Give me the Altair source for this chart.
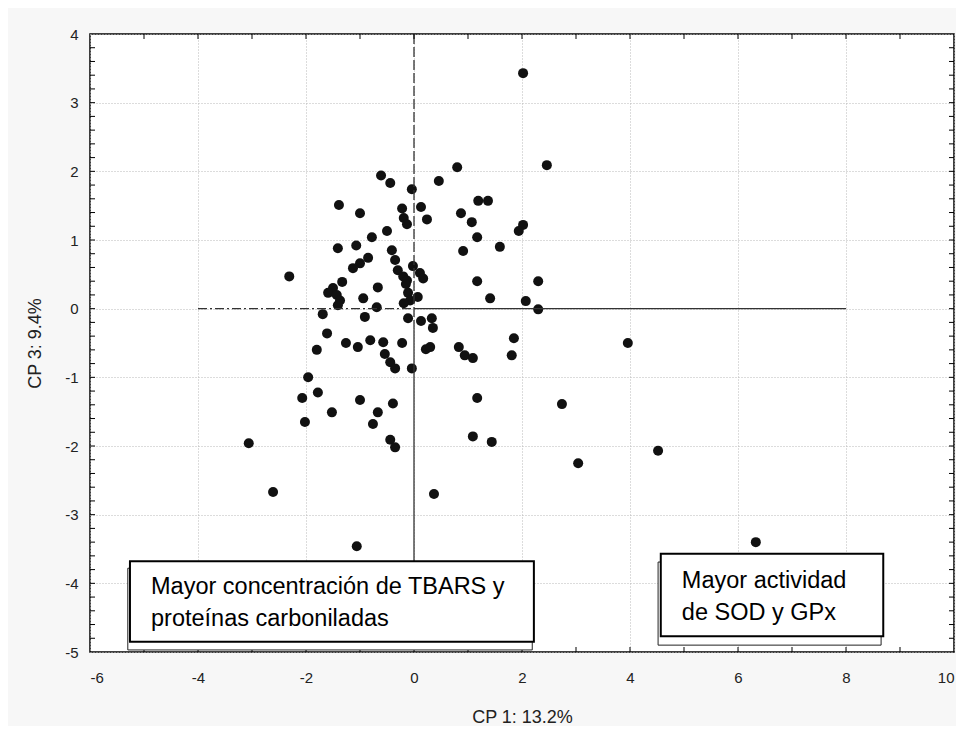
import altair as alt
import pandas as pd

# ---- data ----
cp1 = [2.02, 2.46, 0.80, 0.46, -0.04, -0.61, -0.44, 1.19, 1.37, 0.87, 1.07, 1.17, 1.59, 0.91,
       2.02, 1.94, -0.22, -0.19, -0.13, 0.13, 0.24, -1.39, -1.00, -0.50, -0.78, -1.07, -1.41,
       -0.41, -0.35, -0.85, -1.00, -1.13, -2.31, -0.30, -0.20, -0.13, 0.11, 0.17, -1.33, -1.50,
       -1.59, -1.43, -1.37, -0.67, -0.94, -0.11, -0.07, 0.07, -0.69, -1.69, -1.61, -1.80, -1.26,
       -1.04, -0.81, -0.57, -0.54, -0.44, -0.35, -0.22, -0.04, 0.22, 0.30, -1.96, -1.78, -2.07,
       -2.02, -1.52, -1.00, -0.67, -0.76, -0.39, -0.44, -0.35, -3.06, -2.61, 0.37, -1.06, 1.17,
       2.30, 1.41, 2.07, 2.30, 0.33, 0.35, 0.13, -0.11, 0.83, 0.94, 1.09, 1.85, 1.81, 1.17, 2.74,
       1.09, 1.44, 3.96, 3.04, 4.52, 6.33, -0.91, -1.41, -0.19, -0.02, -0.15]
cp3 = [3.43, 2.09, 2.06, 1.86, 1.74, 1.94, 1.83, 1.57, 1.57, 1.39, 1.26, 1.04, 0.90, 0.84,
       1.22, 1.13, 1.46, 1.32, 1.23, 1.48, 1.30, 1.51, 1.39, 1.13, 1.04, 0.92, 0.88,
       0.85, 0.71, 0.74, 0.66, 0.59, 0.47, 0.56, 0.47, 0.41, 0.52, 0.44, 0.39, 0.30,
       0.23, 0.20, 0.12, 0.31, 0.15, 0.23, 0.12, 0.17, 0.02, -0.08, -0.36, -0.60, -0.50,
       -0.56, -0.46, -0.49, -0.66, -0.78, -0.87, -0.50, -0.87, -0.59, -0.56, -1.00, -1.22, -1.30,
       -1.65, -1.51, -1.33, -1.51, -1.68, -1.38, -1.91, -2.02, -1.96, -2.67, -2.70, -3.46, 0.40,
       0.40, 0.15, 0.11, -0.01, -0.14, -0.28, -0.18, -0.14, -0.56, -0.68, -0.72, -0.43, -0.68, -1.30, -1.39,
       -1.86, -1.94, -0.50, -2.25, -2.07, -3.40, -0.12, 0.05, 0.08, 0.62, 0.36]

x_major = [-6, -4, -2, 0, 2, 4, 6, 8, 10]
y_major = [-5, -4, -3, -2, -1, 0, 1, 2, 3, 4]
x_minor = [-5, -4, -3, -2, -1, 0, 1, 2, 3, 4, 5, 6, 7, 8, 9]
y_minor = [round(-5 + 0.2 * i, 1) for i in range(1, 45)]

# reference axes lines through origin
hdash_x1 = [-4.0]; hdash_x2 = [0.0]; hdash_y = [0.0]
vdash_x = [0.0]; vdash_y1 = [4.0]; vdash_y2 = [-0.3]
solid_x1 = [0.0, 0.0]; solid_x2 = [8.0, 0.0]; solid_y1 = [0.0, -0.3]; solid_y2 = [0.0, -4.0]

# annotation boxes (data units): shadow and front
box_x1 = [-5.30, -5.26, 4.52, 4.57]
box_x2 = [2.19, 2.22, 8.65, 8.69]
box_y1 = [-3.78, -3.68, -3.69, -3.57]
box_y2 = [-4.97, -4.85, -4.90, -4.77]
box_kind = ["shadow", "front", "shadow", "front"]

label_x = [-4.87, 4.96]
label_y = [-4.16, -4.07]
label_text = ["Mayor concentración de TBARS y\nproteínas carboniladas", "Mayor actividad\nde SOD y GPx"]

W, H = 864, 618
FONT = "Liberation Sans"

xs = alt.Scale(domain=[-6, 10], nice=False, zero=False)
ys = alt.Scale(domain=[-5, 4], nice=False, zero=False)

pts = pd.DataFrame({"x": cp1, "y": cp3})

base_x = alt.X("x:Q", scale=xs, title="CP 1: 13.2%",
               axis=alt.Axis(values=x_major, grid=True, gridColor="#b8b8b8", gridDash=[1, 2],
                             gridWidth=1, tickSize=0, domain=False, labelPadding=18,
                             labelExpr="'' + datum.value",
                             labelFont=FONT, labelFontSize=15, labelColor="#222",
                             titleFont=FONT, titleFontSize=18, titleFontWeight="normal",
                             titleColor="#222", titlePadding=23))
base_y = alt.Y("y:Q", scale=ys, title="CP 3: 9.4%",
               axis=alt.Axis(values=y_major, grid=True, gridColor="#b8b8b8", gridDash=[1, 2],
                             gridWidth=1, tickSize=0, domain=False, labelPadding=12,
                             labelExpr="'' + datum.value",
                             labelFont=FONT, labelFontSize=15, labelColor="#222",
                             titleFont=FONT, titleFontSize=18, titleFontWeight="normal",
                             titleColor="#222", titlePadding=20))

points = alt.Chart(pts).mark_circle(size=100, color="#111111", opacity=1).encode(x=base_x, y=base_y)

hd = pd.DataFrame({"x": hdash_x1, "x2": hdash_x2, "y": hdash_y})
vd = pd.DataFrame({"x": vdash_x, "y": vdash_y1, "y2": vdash_y2})
sd = pd.DataFrame({"x": solid_x1, "x2": solid_x2, "y": solid_y1, "y2": solid_y2})
hdashed = alt.Chart(hd).mark_rule(color="#333", strokeWidth=1.3, strokeDash=[9, 3, 2, 3]).encode(
    x=alt.X("x:Q", scale=xs), x2="x2:Q", y=alt.Y("y:Q", scale=ys))
vdashed = alt.Chart(vd).mark_rule(color="#333", strokeWidth=1.3, strokeDash=[10, 3]).encode(
    x=alt.X("x:Q", scale=xs), y=alt.Y("y:Q", scale=ys), y2="y2:Q")
solid = alt.Chart(sd).mark_rule(color="#333", strokeWidth=1.3).encode(
    x=alt.X("x:Q", scale=xs), x2="x2:Q", y=alt.Y("y:Q", scale=ys), y2="y2:Q")

xt = pd.DataFrame({"t": x_minor})
yt = pd.DataFrame({"t": y_minor})
tick_b = alt.Chart(xt).mark_rule(color="#000", strokeWidth=1).encode(
    x=alt.X("t:Q", scale=xs), y=alt.value(H), y2=alt.value(H - 5))
tick_t = alt.Chart(xt).mark_rule(color="#000", strokeWidth=1).encode(
    x=alt.X("t:Q", scale=xs), y=alt.value(0), y2=alt.value(5))
tick_l = alt.Chart(yt).mark_rule(color="#000", strokeWidth=1).encode(
    y=alt.Y("t:Q", scale=ys), x=alt.value(0), x2=alt.value(5))
tick_r = alt.Chart(yt).mark_rule(color="#000", strokeWidth=1).encode(
    y=alt.Y("t:Q", scale=ys), x=alt.value(W), x2=alt.value(W - 5))

box_df = pd.DataFrame({"x": box_x1, "x2": box_x2, "y": box_y1, "y2": box_y2, "k": box_kind})
shadow = alt.Chart(box_df).transform_filter(alt.datum.k == "shadow").mark_rect(
    fill="white", stroke="#222", strokeWidth=1).encode(
    x=alt.X("x:Q", scale=xs), x2="x2:Q", y=alt.Y("y:Q", scale=ys), y2="y2:Q")
front = alt.Chart(box_df).transform_filter(alt.datum.k == "front").mark_rect(
    fill="white", stroke="#000", strokeWidth=2).encode(
    x=alt.X("x:Q", scale=xs), x2="x2:Q", y=alt.Y("y:Q", scale=ys), y2="y2:Q")

lab_df = pd.DataFrame({"x": label_x, "y": label_y, "t": label_text})
labels = alt.Chart(lab_df).mark_text(
    align="left", baseline="alphabetic", font=FONT, fontSize=23.5, lineHeight=32,
    lineBreak="\n", color="#000").encode(
    x=alt.X("x:Q", scale=xs), y=alt.Y("y:Q", scale=ys), text="t:N")

chart = alt.layer(points, hdashed, vdashed, solid, tick_b, tick_t, tick_l, tick_r,
                  shadow, front, labels).properties(
    width=W, height=H,
    background="#f7f7f7",
    padding={"left": 82, "top": 26, "right": 2, "bottom": 74},
    autosize=alt.AutoSizeParams(type="none"),
).configure_view(fill="white", stroke="#000", strokeWidth=1.5)

chart.save("out.html", embed_options={"renderer": "svg", "actions": False})
